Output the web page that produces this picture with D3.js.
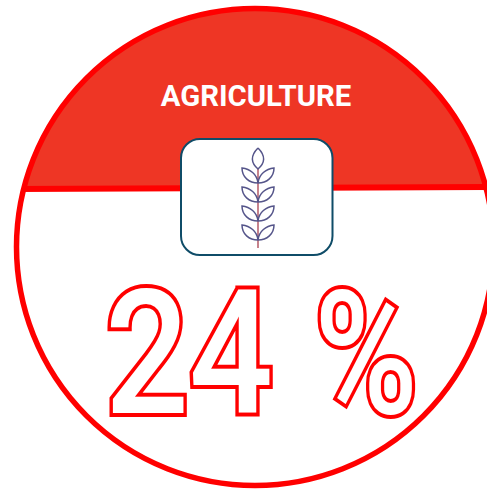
<!DOCTYPE html>
<html>
<head>
<meta charset="utf-8">
<script src="https://cdn.jsdelivr.net/npm/d3@7"></script>
<style>
  html, body { margin: 0; padding: 0; background: #fff; }
  svg { display: block; }
  text { font-family: Roboto, sans-serif; }
</style>
</head>
<body>
<svg id="chart"></svg>
<script>
// Data
var category = "AGRICULTURE";
var percent = 24;
var percentSign = "%";
var wheatLeafRows = [0, 1, 2, 3];

var width = 487, height = 489;
var cx = 255, cy = 247, r = 238.5;
var bandY = 188;

var svg = d3.select("#chart")
    .attr("width", width)
    .attr("height", height);

svg.append("defs").append("clipPath")
    .attr("id", "disc")
    .append("circle")
    .attr("cx", cx)
    .attr("cy", cy)
    .attr("r", r);

// White disc
svg.append("circle")
    .attr("cx", cx)
    .attr("cy", cy)
    .attr("r", r)
    .attr("fill", "#fff");

// Header segment, tilted very slightly like the reference
var head = svg.append("g")
    .attr("clip-path", "url(#disc)")
    .append("g")
    .attr("transform", "rotate(-0.25," + cx + "," + bandY + ")");
head.append("rect")
    .attr("x", -10)
    .attr("y", -20)
    .attr("width", width + 20)
    .attr("height", bandY + 20)
    .attr("fill", "#ee3625");
head.append("rect")
    .attr("x", -10)
    .attr("y", bandY - 3)
    .attr("width", width + 20)
    .attr("height", 6)
    .attr("fill", "#ff0000");

// Ring
svg.append("circle")
    .attr("cx", cx)
    .attr("cy", cy)
    .attr("r", r)
    .attr("fill", "none")
    .attr("stroke", "#ff0000")
    .attr("stroke-width", 5.5);

svg.append("text")
    .attr("x", 256)
    .attr("y", 106)
    .attr("text-anchor", "middle")
    .attr("font-size", 29.3)
    .attr("font-weight", 700)
    .attr("fill", "#fff")
    .text(category);

// Icon box
svg.append("rect")
    .attr("x", 181)
    .attr("y", 139)
    .attr("width", 151.5)
    .attr("height", 116)
    .attr("rx", 19)
    .attr("fill", "#fff")
    .attr("stroke", "#0f4c68")
    .attr("stroke-width", 2);

// Wheat icon
var icon = svg.append("g").attr("transform", "translate(258,0)");

icon.append("line")
    .attr("y1", 168)
    .attr("y2", 248)
    .attr("stroke", "#a8404f")
    .attr("stroke-width", 1.3);

function leaf(side, y) {
    var p = d3.path();
    p.moveTo(0, y);
    p.bezierCurveTo(side * 1, y - 9, side * 8, y - 14, side * 16, y - 15);
    p.bezierCurveTo(side * 16, y - 6, side * 9, y, 0, y);
    return p.toString();
}

var iconStroke = "#55558a";
wheatLeafRows.forEach(function(i) {
    var y = 183 + i * 19;
    [-1, 1].forEach(function(side) {
        icon.append("path")
            .attr("d", leaf(side, y))
            .attr("fill", "none")
            .attr("stroke", iconStroke)
            .attr("stroke-width", 1.5);
    });
});

var tip = d3.path();
tip.moveTo(0, 148);
tip.bezierCurveTo(-8, 156, -7, 163, 0, 169);
tip.bezierCurveTo(7, 163, 8, 156, 0, 148);
icon.append("path")
    .attr("d", tip.toString())
    .attr("fill", "none")
    .attr("stroke", iconStroke)
    .attr("stroke-width", 1.5);

// Big outlined number, stroke painted under the fill so the glyph overlaps stay hidden
function bigText(label, x, len) {
    svg.append("text")
        .attr("x", x)
        .attr("y", 413)
        .attr("textLength", len)
        .attr("lengthAdjust", "spacingAndGlyphs")
        .attr("font-size", 172)
        .attr("font-weight", 500)
        .attr("fill", "#fff")
        .attr("stroke", "#ff0000")
        .attr("stroke-width", 8)
        .attr("stroke-linejoin", "miter")
        .style("paint-order", "stroke")
        .text(label);
}

bigText(String(percent), 105, 168);
bigText(percentSign, 314, 104);
</script>
</body>
</html>
